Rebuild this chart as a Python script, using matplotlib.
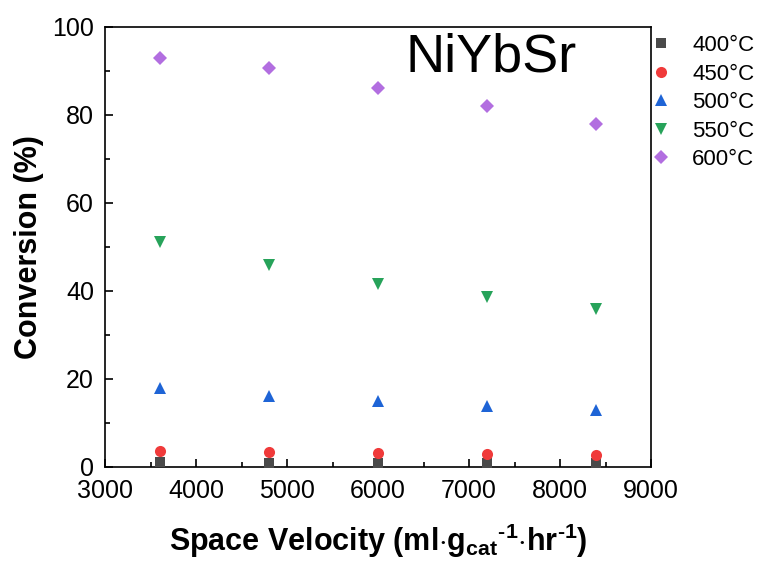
import matplotlib
matplotlib.use("Agg")
import matplotlib.pyplot as plt
from matplotlib.ticker import MultipleLocator

plt.rcParams['font.family'] = ['Liberation Sans', 'DejaVu Sans']
plt.rcParams['mathtext.fontset'] = 'custom'
plt.rcParams['mathtext.rm'] = 'Liberation Sans'
plt.rcParams['mathtext.bf'] = 'Liberation Sans:bold'

# space velocity (ml/g/hr)
sv = [3600, 4800, 6000, 7200, 8400]

temps = ["400°C", "450°C", "500°C", "550°C", "600°C"]
conv_400 = [1.1, 1.0, 0.9, 0.8, 0.8]
conv_450 = [3.7, 3.5, 3.2, 3.0, 2.7]
conv_500 = [18.0, 16.1, 14.9, 13.9, 12.9]
conv_550 = [51.2, 46.0, 41.5, 38.7, 36.0]
conv_600 = [93.0, 90.6, 86.1, 82.0, 78.0]

series = [conv_400, conv_450, conv_500, conv_550, conv_600]
markers = ["s", "o", "^", "v", "D"]
colors = ["#4a4a4a", "#f03a3a", "#1e64d6", "#27a35a", "#b26ee0"]
msizes = [7.5, 8, 8.5, 8.5, 7]

fig = plt.figure(figsize=(7.61, 5.62), dpi=100)
ax = fig.add_axes([105/761, 1 - 467/562, 546/761, 440/562])

for y, m, c, ms, lab in zip(series, markers, colors, msizes, temps):
    ax.plot(sv, y, linestyle="none", marker=m, color=c, markersize=ms,
            markeredgewidth=0, label=lab, clip_on=False, zorder=3)

ax.set_xlim(3000, 9000)
ax.set_ylim(0, 100)
ax.xaxis.set_major_locator(MultipleLocator(1000))
ax.xaxis.set_minor_locator(MultipleLocator(500))
ax.yaxis.set_major_locator(MultipleLocator(20))
ax.yaxis.set_minor_locator(MultipleLocator(10))
ax.tick_params(which="both", direction="in", top=False, right=False, labelsize=18, width=1.2)
ax.tick_params(axis="x", pad=9)
ax.tick_params(axis="y", pad=8)
ax.tick_params(which="major", length=6)
ax.tick_params(which="minor", length=3.5)
for s in ax.spines.values():
    s.set_linewidth(1.2)

ax.set_xlabel(r"Space Velocity (ml$\cdot$g$_{\mathbf{cat}}$$^{\mathbf{‐1}}$$\cdot$hr$^{\mathbf{‐1}}$)",
              fontsize=22, fontweight="bold", labelpad=13)
ax.set_ylabel("Conversion (%)", fontsize=22, fontweight="bold", labelpad=6)

ax.text(0.55, 0.93, "NiYbSr", transform=ax.transAxes, fontsize=39, va="center", ha="left")

leg = fig.legend(loc="upper left", bbox_to_anchor=(650/761, 1 - 35/562), frameon=False,
                 fontsize=16, handletextpad=0.9, labelspacing=0.34, handlelength=1.0,
                 borderaxespad=0, borderpad=0)

fig.savefig("out.png", dpi=100)
